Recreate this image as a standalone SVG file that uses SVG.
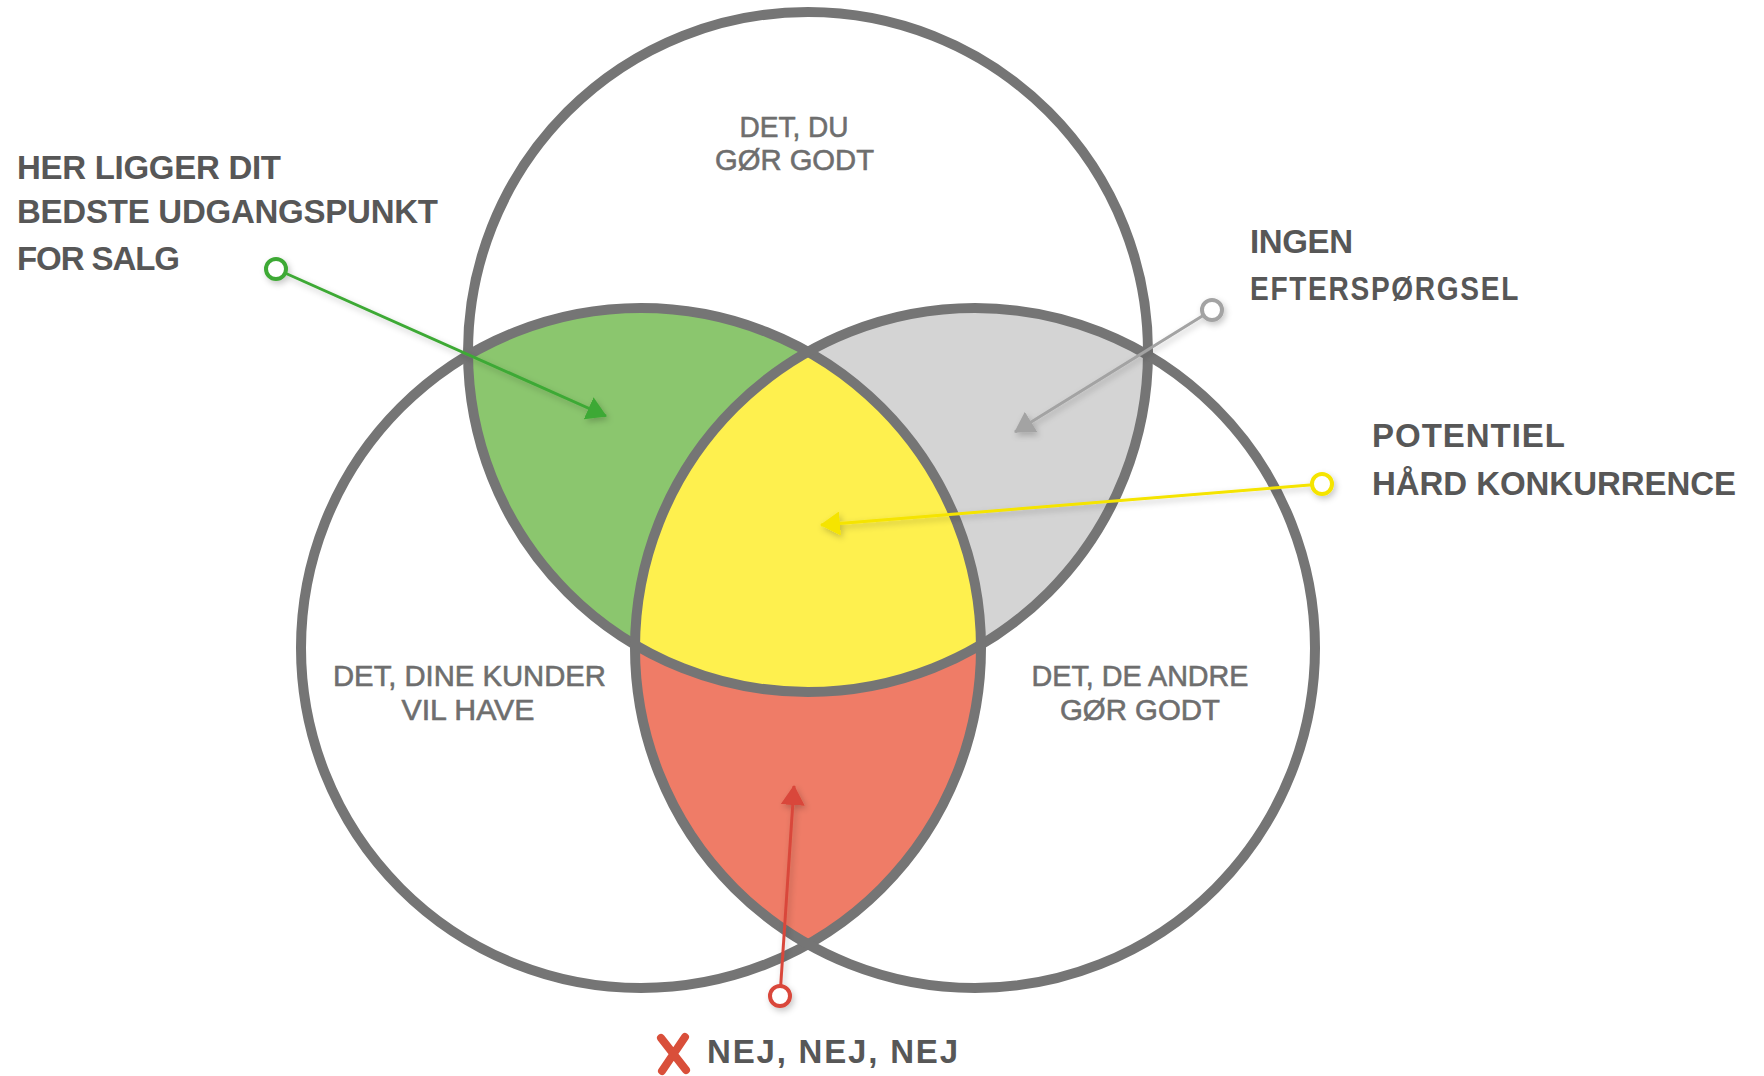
<svg xmlns="http://www.w3.org/2000/svg" width="1764" height="1076" viewBox="0 0 1764 1076">
<style>
.ring{fill:none;stroke:#757575;stroke-width:10}
.region{font-family:"Liberation Sans",Arial,sans-serif;font-size:30px;fill:#6e6e6e;stroke:#6e6e6e;stroke-width:0.6px;text-anchor:middle}
.hand{font-family:"Liberation Sans",Arial,sans-serif;font-weight:bold;font-size:33px;fill:#575757;letter-spacing:2px}
.conn{fill:none;stroke-width:3}
.dot{fill:#ffffff;stroke-width:4}
</style>
<defs>
<clipPath id="cTop"><circle cx="808" cy="352" r="340"/></clipPath>
<clipPath id="cLeft"><circle cx="641" cy="648" r="340"/></clipPath>
<clipPath id="cRight"><circle cx="975" cy="648" r="340"/></clipPath>
<filter id="sh" x="-20%" y="-20%" width="140%" height="140%">
<feDropShadow dx="2" dy="3" stdDeviation="3" flood-color="#000" flood-opacity="0.22"/>
</filter>
<marker id="mGreen" viewBox="0 -12 20 24" refX="19" refY="0" markerWidth="20" markerHeight="24" markerUnits="userSpaceOnUse" orient="auto"><path d="M0,-12 L20,0 L0,12 Z" fill="#3ea935"/></marker>
<marker id="mGray" viewBox="0 -12 20 24" refX="19" refY="0" markerWidth="20" markerHeight="24" markerUnits="userSpaceOnUse" orient="auto"><path d="M0,-12 L20,0 L0,12 Z" fill="#a3a3a3"/></marker>
<marker id="mYellow" viewBox="0 -12 20 24" refX="19" refY="0" markerWidth="20" markerHeight="24" markerUnits="userSpaceOnUse" orient="auto"><path d="M0,-12 L20,0 L0,12 Z" fill="#f5e400"/></marker>
<marker id="mRed" viewBox="0 -12 20 24" refX="19" refY="0" markerWidth="20" markerHeight="24" markerUnits="userSpaceOnUse" orient="auto"><path d="M0,-12 L20,0 L0,12 Z" fill="#d9473a"/></marker>
</defs>
<rect width="1764" height="1076" fill="#ffffff"/>

<g id="regions">
<circle cx="808" cy="352" r="340" fill="#8bc66e" clip-path="url(#cLeft)"/>
<circle cx="808" cy="352" r="340" fill="#d4d4d4" clip-path="url(#cRight)"/>
<circle cx="641" cy="648" r="340" fill="#ef7c67" clip-path="url(#cRight)"/>
<g clip-path="url(#cLeft)"><circle cx="808" cy="352" r="340" fill="#fef04e" clip-path="url(#cRight)"/></g>
</g>

<g id="node-top">
<circle class="ring" cx="808" cy="352" r="340"/>
<text class="region" x="794" y="137" textLength="109" lengthAdjust="spacingAndGlyphs">DET, DU</text>
<text class="region" x="794.5" y="170" textLength="159" lengthAdjust="spacingAndGlyphs">GØR GODT</text>
</g>
<g id="node-left">
<circle class="ring" cx="641" cy="648" r="340"/>
<text class="region" x="469.5" y="686" textLength="273" lengthAdjust="spacingAndGlyphs">DET, DINE KUNDER</text>
<text class="region" x="468" y="720" textLength="133" lengthAdjust="spacingAndGlyphs">VIL HAVE</text>
</g>
<g id="node-right">
<circle class="ring" cx="975" cy="648" r="340"/>
<text class="region" x="1140" y="686" textLength="217" lengthAdjust="spacingAndGlyphs">DET, DE ANDRE</text>
<text class="region" x="1140" y="720" textLength="160" lengthAdjust="spacingAndGlyphs">GØR GODT</text>
</g>

<g id="connectors" filter="url(#sh)">
<line class="conn" x1="276" y1="269" x2="606" y2="416" stroke="#3ea935" stroke-width="2.5" marker-end="url(#mGreen)"/>
<circle class="dot" cx="276" cy="269" r="10" stroke="#3ea935"/>
<line class="conn" x1="1212" y1="310" x2="1015" y2="432" stroke="#a3a3a3" marker-end="url(#mGray)"/>
<circle class="dot" cx="1212" cy="310" r="10" stroke="#a3a3a3"/>
<line class="conn" x1="1322" y1="484" x2="821" y2="525" stroke="#f5e400" marker-end="url(#mYellow)"/>
<circle class="dot" cx="1322" cy="484" r="10" stroke="#f5e400"/>
<line class="conn" x1="780" y1="996" x2="794" y2="786" stroke="#d9473a" marker-end="url(#mRed)"/>
<circle class="dot" cx="780" cy="996" r="10" stroke="#d9473a"/>
</g>

<g id="label-best">
<text class="hand" x="17" y="179" textLength="266">HER LIGGER DIT</text>
<text class="hand" x="17" y="223" textLength="423">BEDSTE UDGANGSPUNKT</text>
<text class="hand" x="17" y="270" textLength="165">FOR SALG</text>
</g>
<g id="label-demand">
<text class="hand" x="1250" y="253" textLength="105">INGEN</text>
<text class="hand" x="1250" y="300" textLength="270" lengthAdjust="spacingAndGlyphs">EFTERSPØRGSEL</text>
</g>
<g id="label-competition">
<text class="hand" x="1372" y="447" textLength="195">POTENTIEL</text>
<text class="hand" x="1372" y="495" textLength="366">HÅRD KONKURRENCE</text>
</g>
<g id="label-no">
<path d="M661,1038 L686,1070 M685,1037 L662,1071" fill="none" stroke="#d94f3a" stroke-width="8" stroke-linecap="round"/>
<text class="hand" x="707" y="1063" textLength="253">NEJ, NEJ, NEJ</text>
</g>
</svg>
